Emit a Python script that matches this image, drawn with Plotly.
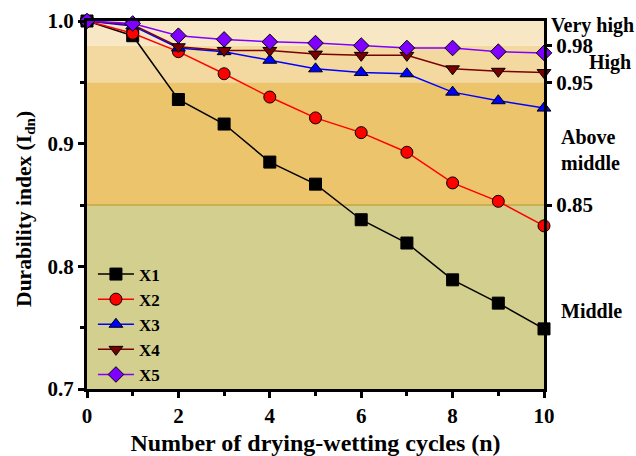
import plotly.graph_objects as go

# Drying-wetting cycles
cycles = [0, 1, 2, 3, 4, 5, 6, 7, 8, 9, 10]

# Durability index I_dn for each mix
x1 = [1.000, 0.988, 0.936, 0.916, 0.885, 0.867, 0.838, 0.819, 0.789, 0.770, 0.749]
x2 = [1.000, 0.990, 0.975, 0.957, 0.938, 0.921, 0.909, 0.893, 0.868, 0.853, 0.833]
x3 = [1.000, 0.996, 0.978, 0.975, 0.968, 0.961, 0.958, 0.957, 0.942, 0.935, 0.929]
x4 = [1.000, 0.997, 0.979, 0.976, 0.976, 0.973, 0.972, 0.972, 0.961, 0.959, 0.958]
x5 = [1.000, 0.998, 0.988, 0.985, 0.983, 0.982, 0.980, 0.978, 0.978, 0.975, 0.974]

series_names = ["X1", "X2", "X3", "X4", "X5"]
series_values = [x1, x2, x3, x4, x5]
line_colors = ["#000000", "#ff0000", "#0000ff", "#7a0000", "#8000ff"]
marker_symbols = ["square", "circle", "triangle-up", "triangle-down", "diamond"]

# Durability grade bands (lower, upper, fill)
band_edges = [(0.70, 0.85, "#d3cf8e"), (0.85, 0.95, "#ecc46c"),
              (0.95, 0.98, "#f3d9a0"), (0.98, 1.00, "#f8e7c4")]
grade_ticks = [0.85, 0.95, 0.98]
grade_tick_labels = ["0.85", "0.95", "0.98"]
grade_names = ["Very high", "High", "Above<br>middle", "Middle"]

FONT = "Liberation Serif"
bold = lambda size: dict(family=FONT, size=size, color="#000000", weight="bold")

fig = go.Figure()

for name, vals, col, sym in zip(series_names, series_values, line_colors, marker_symbols):
    fig.add_trace(go.Scatter(
        x=cycles, y=vals, name=name, mode="lines+markers",
        line=dict(color=col, width=1.5),
        marker=dict(symbol=sym, size=12, color=col, line=dict(color="#000000", width=1)),
        cliponaxis=False,
    ))

# invisible trace to activate the right-hand axis
fig.add_trace(go.Scatter(x=[0], y=[0.7], yaxis="y2", mode="markers",
                         marker=dict(opacity=0), showlegend=False, hoverinfo="skip"))

for lo, hi, col in band_edges:
    fig.add_shape(type="rect", xref="x", yref="y", x0=0, x1=10, y0=lo, y1=hi,
                  fillcolor=col, line_width=0, layer="below")
fig.add_shape(type="line", xref="x", yref="y", x0=0, x1=10, y0=0.85, y1=0.85,
              line=dict(color="#c4a640", width=1.5), layer="below")

fig.update_layout(
    width=636, height=456,
    margin=dict(l=87, r=92, t=21, b=67, autoexpand=False),
    paper_bgcolor="white", plot_bgcolor="white",
    font=dict(family=FONT, color="#000000"),
    showlegend=True,
    legend=dict(x=0.013, y=0.36, xanchor="left", yanchor="top",
                bgcolor="rgba(0,0,0,0)", font=bold(17),
                tracegroupgap=0, itemwidth=36),
    xaxis=dict(range=[0, 10], tickvals=[0, 2, 4, 6, 8, 10], ticks="outside",
               ticklen=6, tickwidth=2.5, tickcolor="#000000", automargin=False,
               minor=dict(tickvals=[1, 3, 5, 7, 9], ticks="outside", ticklen=4,
                          tickwidth=2.5, tickcolor="#000000"),
               showgrid=False, zeroline=False, showline=True, linewidth=3,
               linecolor="#000000", mirror=True,
               tickfont=bold(21),
               title=dict(text="Number of drying-wetting cycles (n)",
                          font=bold(24), standoff=12)),
    yaxis=dict(range=[0.7, 1.0], tickvals=[0.7, 0.8, 0.9, 1.0],
               ticktext=["0.7", "0.8", "0.9", "1.0"], ticks="outside",
               ticklen=6, tickwidth=2.5, tickcolor="#000000", automargin=False,
               minor=dict(tickvals=[0.75, 0.85, 0.95], ticks="outside", ticklen=4,
                          tickwidth=2.5, tickcolor="#000000"),
               showgrid=False, zeroline=False, showline=True, linewidth=3,
               linecolor="#000000", mirror=True,
               tickfont=bold(21)),
    yaxis2=dict(range=[0.7, 1.0], overlaying="y", side="right",
                tickvals=grade_ticks, ticktext=grade_tick_labels, ticks="outside",
                ticklen=7, tickwidth=2.5, tickcolor="#000000", automargin=False,
                showgrid=False, zeroline=False, showline=False,
                tickfont=bold(21)),
)

# left axis title, rotated
fig.add_annotation(text="Durability index (I<sub>dn</sub>)", xref="paper", yref="paper",
                   x=-0.136, y=0.489, xanchor="center", yanchor="middle",
                   textangle=-90, showarrow=False, font=bold(21.5))

# grade labels beside the right axis (paper coordinates)
grade_pos = [(1.011, 0.989, "left"), (1.195, 0.886, "right"),
             (1.033, 0.649, "left"), (1.033, 0.212, "left")]
for text, (xp, yp, anchor) in zip(grade_names, grade_pos):
    fig.add_annotation(text=text, xref="paper", yref="paper", x=xp, y=yp,
                       xanchor=anchor, yanchor="middle", showarrow=False,
                       align="left", font=bold(20))

fig.write_html("out.html")
